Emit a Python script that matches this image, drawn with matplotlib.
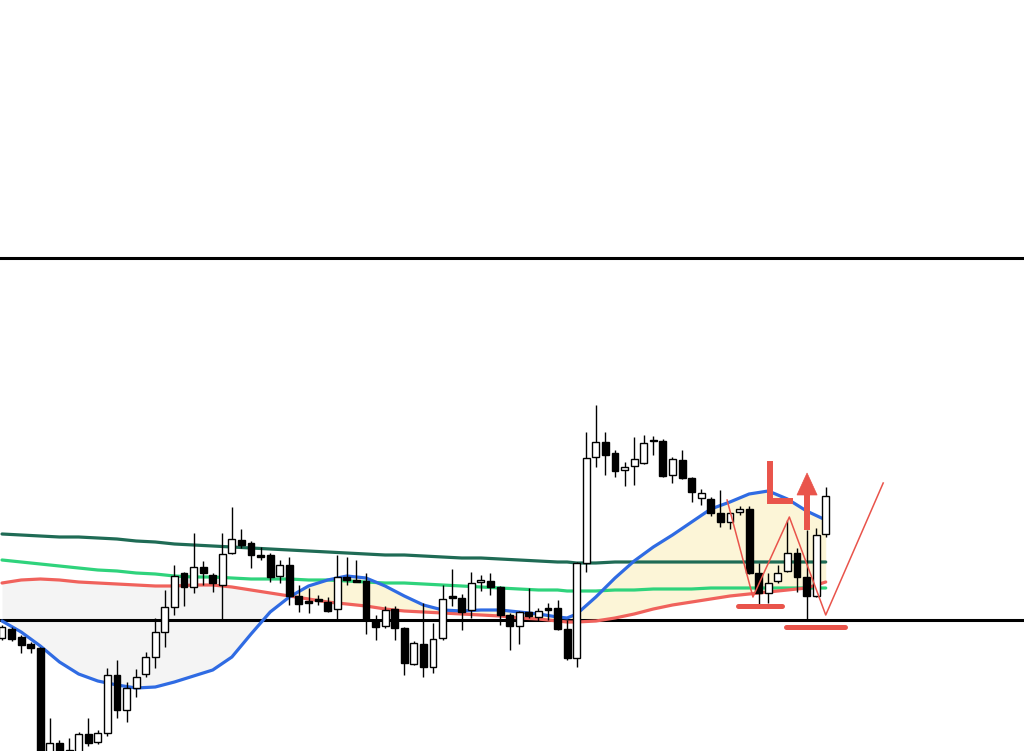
import matplotlib

matplotlib.use("Agg")
import matplotlib.pyplot as plt
from matplotlib.patches import Rectangle, Polygon

# candle OHLC, in chart units (up = higher)
opens = [113, 122, 114, 107, 103, -19, 8, -7, -5, 17, 9, 18, 76, 41, 63, 77, 94, 119, 144, 178,
         164, 184, 176, 166, 198, 211, 208, 196, 196, 175, 186, 155, 150, 152, 149, 142, 174, 171, 170, 131,
         125, 142, 123, 87, 107, 84, 113, 155, 153, 141, 169, 170, 164, 136, 125, 139, 134, 143, 143, 122,
         93, 188, 294, 309, 298, 281, 285, 288, 311, 310, 276, 291, 273, 253, 252, 238, 229, 239, 242, 178,
         158, 170, 180, 198, 174, 155, 217]
highs = [126, 124, 116, 109, 104, 33, 11, 13, 19, 33, 21, 83, 91, 69, 82, 99, 133, 161, 186, 179,
         218, 190, 178, 218, 244, 222, 210, 204, 198, 191, 194, 166, 163, 156, 154, 196, 194, 191, 178, 136,
         145, 145, 124, 110, 148, 128, 166, 182, 157, 179, 176, 178, 165, 138, 140, 163, 143, 148, 151, 131,
         189, 319, 346, 319, 301, 289, 314, 316, 315, 312, 294, 301, 274, 262, 254, 261, 239, 245, 245, 188,
         178, 186, 231, 203, 221, 223, 264]
lows = [111, 110, 98, 98, -34, -24, -14, -14, -9, 5, 7, 15, 33, 29, 54, 74, 83, 104, 136, 145,
        158, 166, 159, 131, 197, 203, 183, 191, 169, 168, 146, 139, 138, 146, 139, 131, 166, 169, 117, 111,
        123, 111, 76, 86, 74, 78, 111, 145, 121, 133, 160, 156, 126, 101, 107, 133, 130, 131, 121, 91,
        84, 179, 284, 276, 274, 265, 266, 287, 296, 274, 268, 272, 249, 246, 235, 224, 222, 236, 177, 144,
        148, 168, 179, 159, 131, 154, 214]
closes = [124, 112, 106, 103, -24, 8, -7, 1, 17, 8, 18, 76, 41, 63, 74, 94, 119, 144, 175, 164,
          184, 178, 168, 197, 212, 206, 196, 194, 174, 186, 155, 147, 148, 150, 140, 174, 171, 169, 131, 124,
          141, 123, 88, 108, 84, 112, 152, 153, 139, 168, 171, 164, 136, 125, 139, 135, 140, 141, 122, 93,
          188, 293, 309, 296, 280, 284, 292, 308, 310, 275, 292, 273, 259, 258, 238, 229, 238, 242, 178, 158,
          168, 178, 198, 174, 155, 216, 255]

# moving averages, sampled at these candle positions
ma_idx = list(range(0, 59, 2)) + [59, 60] + list(range(62, 87, 2))
ma_fast = [130, 119, 105, 89, 77, 70, 66, 63, 64, 69, 75, 81, 94, 117, 139, 154, 165, 171, 175, 173,
           165, 155, 146, 141, 140, 141, 141, 139, 137, 134, 133, 137, 154, 173, 190, 204, 216, 229, 242, 249,
           257, 260, 252, 240, 231]
ma_mid = [168, 171, 172, 171, 169, 168, 167, 166, 165, 165, 166, 166, 164, 161, 158, 155, 152, 149, 147, 145,
          142, 140, 139, 138, 137, 136, 135, 133, 132, 130, 129, 129, 130, 133, 137, 142, 146, 149, 152, 155,
          157, 159, 161, 163, 169]
ma_slow = [191, 189, 187, 185, 183, 181, 180, 178, 177, 175, 174, 174, 173, 172, 172, 172, 171, 171, 170, 169,
           168, 168, 167, 166, 165, 164, 163, 162, 161, 161, 160, 160, 160, 161, 161, 162, 162, 162, 163, 163,
           163, 163, 163, 163, 163]
ma_long = [217, 216, 215, 214, 214, 213, 212, 210, 209, 207, 206, 205, 204, 203, 202, 201, 200, 199, 198, 197,
           196, 196, 195, 194, 193, 193, 192, 191, 190, 189, 189, 188, 188, 189, 189, 189, 189, 189, 189, 189,
           189, 189, 189, 189, 189]

# horizontal levels
levels = [493, 131]

# hand-drawn markup
zigzag_x = [75.7, 78.4, 82.2, 86.0, 92.0]
zigzag_y = [251, 154, 234, 136, 268]
support_lines = [(76.8, 81.4, 145), (81.9, 88.0, 124)]

RED = "#e9544b"

fig = plt.figure(figsize=(10.24, 7.51), dpi=100)
ax = fig.add_axes([0, 0, 1, 1])
ax.set_xlim(-0.21, 106.7)
ax.set_ylim(0, 751)
ax.axis("off")

# cloud between fast and mid averages
ax.fill_between(ma_idx, ma_fast, ma_mid, where=[f >= m for f, m in zip(ma_fast, ma_mid)],
                interpolate=True, color="#fcf5d7", lw=0, zorder=1)
ax.fill_between(ma_idx, ma_fast, ma_mid, where=[f <= m for f, m in zip(ma_fast, ma_mid)],
                interpolate=True, color="#f4f4f4", lw=0, zorder=1)

for y in levels:
    ax.axhline(y, color="black", lw=2.2, zorder=2)

ax.plot(ma_idx, ma_long, color="#1f6b55", lw=2.3, zorder=3, solid_capstyle="round")
ax.plot(ma_idx, ma_slow, color="#2fd37c", lw=2.3, zorder=3, solid_capstyle="round")
ax.plot(ma_idx, ma_mid, color="#f0625c", lw=2.3, zorder=3, solid_capstyle="round")
ax.plot(ma_idx, ma_fast, color="#2f6be3", lw=2.3, zorder=3, solid_capstyle="round")

# candles
width = 0.72
for i, (o, h, l, c) in enumerate(zip(opens, highs, lows, closes)):
    ax.vlines(i, l, h, color="black", lw=1.0, zorder=4)
    bottom = min(o, c)
    height = max(abs(c - o), 1.2)
    face = "white" if c >= o else "black"
    ax.add_patch(Rectangle((i - width / 2, bottom), width, height, facecolor=face,
                           edgecolor="black", lw=1.0, zorder=5))

# markup: W pattern, support strokes, "L" and arrow
ax.plot(zigzag_x, zigzag_y, color=RED, lw=1.1, zorder=6)
for x0, x1, y in support_lines:
    ax.plot([x0, x1], [y, y], color=RED, lw=3.6, solid_capstyle="round", zorder=6)

ax.plot([80.2, 80.2, 82.3], [287, 250, 250], color=RED, lw=4.3, solid_joinstyle="miter", zorder=6)
ax.plot([84.0, 84.0], [224, 258], color=RED, lw=4.3, zorder=6)
ax.add_patch(Polygon([(83.0, 256), (85.1, 256), (84.05, 278)], closed=True,
                     facecolor=RED, edgecolor=RED, lw=0.5, zorder=6))

fig.savefig("out.png", dpi=100)
